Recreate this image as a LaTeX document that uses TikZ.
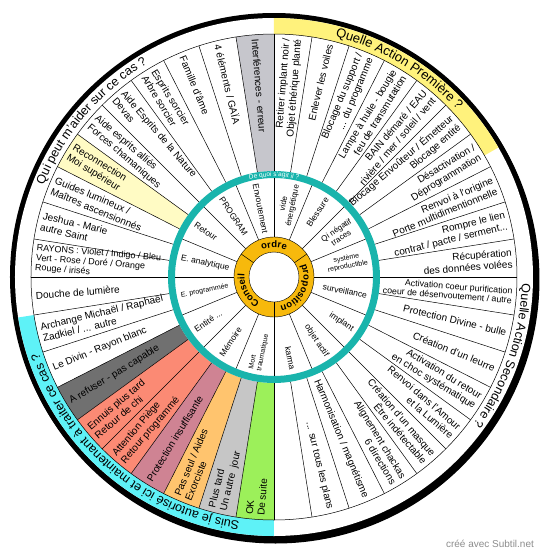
\documentclass[tikz,border=0pt]{standalone}
\usepackage{fontspec}
\setmainfont{Liberation Sans}
\usetikzlibrary{decorations.text}

\definecolor{bandyellow}{HTML}{FFF27C}
\definecolor{bandcyan}{HTML}{5EF2F7}
\definecolor{ringteal}{HTML}{19B4AC}
\definecolor{ringorange}{HTML}{F7B90C}
\definecolor{grayI}{HTML}{C6C6CC}
\definecolor{paleY}{HTML}{FFFBC4}
\definecolor{darkG}{HTML}{707070}
\definecolor{salmon}{HTML}{FB8A74}
\definecolor{mauve}{HTML}{CF8393}
\definecolor{lorange}{HTML}{FFC46E}
\definecolor{lgray}{HTML}{C6C6C6}
\definecolor{okgreen}{HTML}{9CF05A}

\begin{document}
\begin{tikzpicture}[x=1pt, y=1pt,
    wline/.style={draw=black, line width=0.5pt},
    outL/.style={font=\fontsize{10}{11.5}\selectfont, anchor=west, align=left, rotate=#1-180, inner sep=0pt},
    outR/.style={font=\fontsize{10}{11.5}\selectfont, anchor=east, align=right, rotate=#1, inner sep=0pt},
    inL/.style={font=\fontsize{8.5}{9.5}\selectfont, anchor=west, align=left, rotate=#1-180, inner sep=0pt},
    inR/.style={font=\fontsize{8.5}{9.5}\selectfont, anchor=east, align=center, rotate=#1, inner sep=0pt},
    smallfont/.style={font=\fontsize{9}{9.8}\selectfont},
    tinyfont/.style={font=\fontsize{7}{8}\selectfont}
]
\useasboundingbox (-274,-281) rectangle (276,277);

% disc and rim
\fill[black] (1.5,-2.5) circle[radius=264];
\fill[black] (0,0) circle[radius=264];
\fill[white] (0,0) circle[radius=259];

% outer bands
\fill[bandyellow] (30:243) arc[start angle=30, end angle=90, radius=243] -- (90:259) arc[start angle=90, end angle=30, radius=259] -- cycle;
\fill[bandcyan] (189:243) arc[start angle=189, end angle=270, radius=243] -- (270:259) arc[start angle=270, end angle=189, radius=259] -- cycle;

% coloured sectors
\foreach \a/\c in {90/grayI, 144/paleY, 207/darkG, 216/salmon, 225/salmon, 234/mauve, 243/lorange, 252/lgray, 261/okgreen}
    \fill[\c] (\a:106) arc[start angle=\a, delta angle=9, radius=106] -- ({\a+9}:243) arc[start angle=\a+9, delta angle=-9, radius=243] -- cycle;

\draw[wline] (0,0) circle[radius=243];
\foreach \a in {0,9,...,351}
    \draw[wline] (\a:106) -- (\a:243);

% middle ring
\draw[ringteal, line width=7pt] (0,0) circle[radius=102.5];
\foreach \a in {0,22.5,...,337.5}
    \draw[wline] (\a:40) -- (\a:99);

% centre ring
\draw[ringorange, line width=15pt] (0,0) circle[radius=32.5];
\draw[wline, line width=0.4pt] (0,0) circle[radius=25];
\draw[wline, line width=0.4pt] (0,0) circle[radius=40];
\foreach \a in {35,145,270}
    \draw[wline] (\a:25) -- (\a:40);

% ring texts
\path[decorate, decoration={text along path, text align=center, text={|\bfseries\fontsize{9.5}{9.5}\selectfont|ordre}}]
    (145:29.5) arc[start angle=145, end angle=35, radius=29.5];
\path[decorate, decoration={text along path, text align=center, text={|\bfseries\fontsize{9.5}{9.5}\selectfont|proposition}}]
    (35:29.5) arc[start angle=35, end angle=-90, radius=29.5];
\path[decorate, decoration={text along path, text align=center, text={|\bfseries\fontsize{9.5}{9.5}\selectfont|Conseil}}]
    (270:29.5) arc[start angle=270, end angle=145, radius=29.5];
\path[decorate, decoration={text along path, text align=center, text={|\color{white}\fontsize{6.5}{6.5}\selectfont|De quoi s'agit il ?}}]
    (130:100.3) arc[start angle=130, end angle=50, radius=100.3];

\path[decorate, decoration={text along path, text align=center, text={|\fontsize{13}{13}\selectfont|Quelle Action Première ?}}]
    (80:248) arc[start angle=80, end angle=38, radius=248];
\path[decorate, decoration={text along path, text align=center, text={|\fontsize{12.5}{12.5}\selectfont|Qui peut m'aider sur ce cas ?}}]
    (162:248) arc[start angle=162, end angle=117, radius=248];
\path[decorate, decoration={text along path, text align=center, text={|\fontsize{12.5}{12.5}\selectfont|Quelle Action Secondaire ?}}]
    (2:248) arc[start angle=2, end angle=-40, radius=248];
\path[decorate, decoration={text along path, text align=center, text={|\fontsize{12.5}{12.5}\selectfont|Suis je autorisé ici et maintenant à traiter ce cas ?}}]
    (266:247) arc[start angle=266, end angle=194, radius=247];

% who can help
\node[outL=94.5] (interf) at (94.5:239) {Interférences - erreur};
\node[outL=103.5] (gaia) at (103.5:239) {4 éléments / GAÏA};
\node[outL=112.5] (famille) at (112.5:239) {Famille d'âme};
\node[outL=121.5] (sorcier) at (121.5:239) {Esprits sorcier\\Arbre sorcier};
\node[outL=130.5] (nature) at (130.5:239) {Aide Esprits de la Nature\\Devas};
\node[outL=139.5] (allies) at (139.5:239) {Aide esprits alliés\\Forces chamaniques};
\node[outL=148.5] (moisup) at (148.5:239) {Reconnection\\Moi supérieur};
\node[outL=157.5] (guides) at (157.5:239) {Guides lumineux /\\Maîtres ascensionnés};
\node[outL=166.5] (jeshua) at (166.5:239) {Jeshua - Marie\\autre Saint};
\node[outL=175.5, smallfont] (rayons) at (175.5:239) {RAYONS : Violet / Indigo / Bleu\\Vert - Rose / Doré / Orange\\Rouge / irisés};
\node[outL=184.5] (douche) at (184.5:239) {Douche de lumière};
\node[outL=193.5] (archange) at (193.5:239) {Archange Michaël / Raphaël\\Zadkiel / ... autre};
\node[outL=202.5] (divin) at (202.5:239) {Le Divin - Rayon blanc};

% am I allowed
\node[outL=211.5] (refus) at (211.5:239) {A refuser - pas capable};
\node[outL=220.5] (ennuis) at (220.5:239) {Ennuis plus tard\\Retour de chi};
\node[outL=229.5] (piege) at (229.5:239) {Attention Piège\\Retour programmé};
\node[outL=238.5] (protec) at (238.5:239) {Protection insuffisante};
\node[outL=247.5] (seul) at (247.5:239) {Pas seul / Aides\\Exorciste};
\node[outL=256.5] (tard) at (256.5:239) {Plus tard\\Un autre\ \ jour};
\node[outL=265.5] (ok) at (265.5:239) {OK\\De suite};

% first action
\node[outR=85.5] (noir) at (85.5:239) {Retirer implant noir /\\Objet éthérique planté};
\node[outR=76.5] (voiles) at (76.5:239) {Enlever les voiles};
\node[outR=67.5] (support) at (67.5:239) {Blocage du support /\\... du programme};
\node[outR=58.5] (lampe) at (58.5:239) {Lampe à huile - bougie\\feu de transmutation};
\node[outR=49.5] (bain) at (49.5:239) {BAIN démaré / EAU\\rivière / mer / soleil / vent};
\node[outR=40.5] (envout) at (40.5:239) {Blocage Envoûteur / Émetteur\\Blocage entité};
\node[outR=31.5] (desact) at (31.5:239) {Désactivation /\\Déprogrammation};
\node[outR=22.5] (origine) at (22.5:239) {Renvoi à l'origine\\Porte multidimentionnelle};
\node[outR=13.5] (lien) at (13.5:239) {Rompre le lien\\contrat / pacte / serment...};
\node[outR=4.5] (recup) at (4.5:239) {Récupération\\des données volées};

% second action
\node[outR=-4.5, font=\fontsize{8.8}{9.4}\selectfont] (coeur) at (-4.5:239) {Activation coeur purification\\coeur de désenvoutement / autre};
\node[outR=-13.5] (bulle) at (-13.5:239) {Protection Divine - bulle};
\node[outR=-22.5] (leurre) at (-22.5:239) {Création d'un leurre};
\node[outR=-31.5] (retour) at (-31.5:239) {Activation du retour\\en choc systématique};
\node[outR=-40.5] (amour) at (-40.5:239) {Renvoi dans l'Amour\\et la Lumière};
\node[outR=-49.5] (masque) at (-49.5:239) {Création d'un masque\\Être indétectable};
\node[outR=-58.5] (chakras) at (-58.5:239) {Alignement chackas\\6 directions};
\node[outR=-67.5] (harmo) at (-67.5:239) {Harmonisation / magnétisme};
\node[outR=-76.5] (plans) at (-76.5:239) {... sur tous les plans};

% what is it about
\node[inL=101.25] (envoutement) at (101.25:95) {Envoutement};
\node[inL=123.75] (program) at (123.75:95) {PROGRAM};
\node[inL=146.25] (retourI) at (146.25:95) {Retour};
\node[inL=168.75] (analytique) at (168.75:95) {E. analytique};
\node[inL=191.25, tinyfont] (programmee) at (191.25:95) {E. programmée};
\node[inL=213.75] (entite) at (213.75:95) {Entité ...};
\node[inL=236.25] (memoire) at (236.25:95) {Mémoire};
\node[inL=258.75, tinyfont] (mort) at (258.75:95) {Mort\\traumatique};
\node[inR=78.75, font=\fontsize{8}{9}\selectfont] (vide) at (78.75:95) {vide\\énergétique};
\node[inR=56.25] (blessure) at (56.25:95) {Blessure};
\node[inR=33.75, font=\fontsize{8}{9}\selectfont] (qi) at (33.75:95) {Qi négatif\\traces};
\node[inR=11.25, tinyfont] (systeme) at (11.25:95) {système\\reproductible};
\node[inR=-11.25] (surveil) at (-11.25:95) {surveillance};
\node[inR=-33.75] (implantI) at (-33.75:95) {implant};
\node[inR=-56.25] (objet) at (-56.25:95) {objet actif};
\node[inR=-78.75] (karma) at (-78.75:95) {karma};

\node[font=\fontsize{10}{10}\selectfont, text=black!45] (credit) at (216,-267) {créé avec Subtil.net};
\end{tikzpicture}
\end{document}
